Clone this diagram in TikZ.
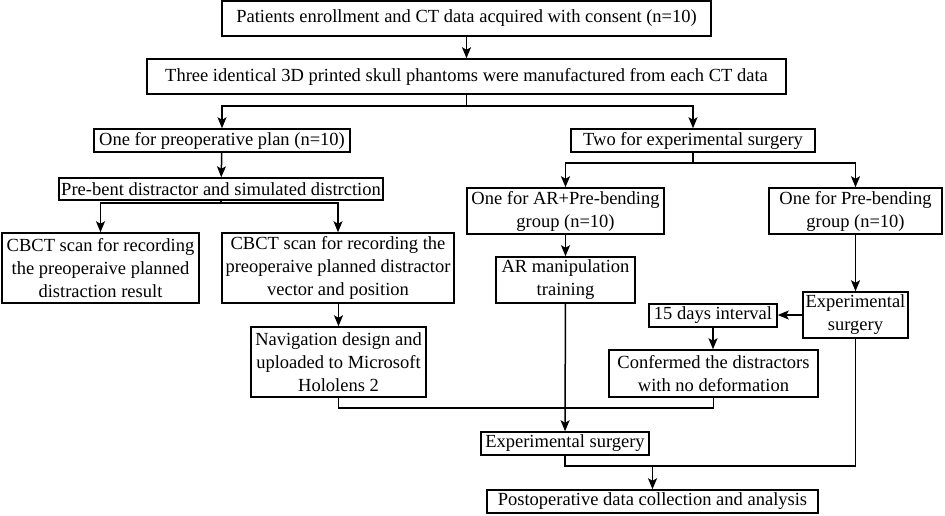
\documentclass[tikz,border=0pt]{standalone}
\usepackage{fontspec}
\setmainfont{Liberation Serif}
\usetikzlibrary{arrows.meta}
\begin{document}
\begin{tikzpicture}[x=1pt,y=-1pt,
  box/.style={draw, line width=1.5pt, inner sep=0pt, align=center,
    font=\fontsize{18.5}{23}\selectfont},
  conn/.style={line width=1.5pt},
  arr/.style={conn, -{Stealth[length=11pt,width=9pt,inset=2.5pt]}}]
\useasboundingbox (0,0) rectangle (945,515);
\newcommand{\bx}[7]{\node[box, minimum width={#4-#2}, minimum height={#5-#3}] (#1) at ({(#2+#4)/2},{(#3+#5)/2}) {#6};}
\bx{b1}{222}{1}{711}{36}{Patients enrollment and CT data acquired with consent (n=10)}{}
\bx{b2}{147}{59}{786}{94}{Three identical 3D printed skull phantoms were manufactured from each CT data}{}
\bx{preop}{94}{129}{350}{152}{One for preoperative plan (n=10)}{}
\bx{two}{571}{129}{815}{152}{Two for experimental surgery}{}
\bx{prebent}{59}{178}{383}{200}{Pre-bent distractor and simulated distrction}{}
\bx{cbctL}{2}{233}{199}{303}{CBCT scan for recording\\the preoperaive planned\\distraction result}{}
\bx{cbctR}{222}{233}{454}{303}{CBCT scan for recording the\\preoperaive planned distractor\\vector and position}{}
\bx{arpre}{467}{188}{664}{234}{One for AR+Pre-bending\\group (n=10)}{}
\bx{pre}{769}{188}{942}{234}{One for Pre-bending\\group (n=10)}{}
\bx{artrain}{496}{257}{635}{303}{AR manipulation\\training}{}
\bx{expR}{803}{292}{908}{338}{Experimental\\surgery}{}
\bx{days}{649}{304}{777}{327}{15 days interval}{}
\bx{nav}{251}{327}{426}{397}{Navigation design and\\uploaded to Microsoft\\Hololens 2}{}
\bx{conf}{609}{350}{818}{397}{Confermed the distractors\\with no deformation}{}
\bx{expM}{481}{432}{649}{455}{Experimental surgery}{}
\bx{post}{487}{490}{818}{513}{Postoperative data collection and analysis}{}
% connectors
\draw[arr] (b1.south -| b2.north) -- (b2.north);
\coordinate (j1) at (466.5,106);
\draw[conn] (b2.south) -- (j1);
\draw[arr] (j1) -| (preop.north);
\draw[arr] (j1) -| (two.north);
\draw[arr] (preop) -- (prebent);
\coordinate (j2) at (221,203);
\draw[conn] (prebent.south) -- (j2);
\draw[arr] (j2) -| (cbctL.north);
\draw[arr] (j2) -| (cbctR.north);
\coordinate (j3) at (693,163);
\draw[conn] (two.south) -- (j3);
\draw[arr] (j3) -| (arpre.north);
\draw[arr] (j3) -| (pre.north);
\draw[arr] (arpre) -- (artrain);
\draw[arr] (pre) -- (expR);
\draw[arr] (expR.west) -- (expR.west -| days.east);
\draw[arr] (days) -- (days.south |- conf.north);
\draw[arr] (cbctR.south -| nav.north) -- (nav.north);
\coordinate (j4) at (338.5,408);
\draw[conn] (nav.south) -- (j4) -| (conf.south);
\draw[arr] (artrain) -- (expM);
\coordinate (j5) at (652.5,466);
\draw[conn] (expM.south) |- (j5);
\draw[conn] (expR.south) |- (j5);
\draw[arr] (j5) -- (post);
\end{tikzpicture}
\end{document}
